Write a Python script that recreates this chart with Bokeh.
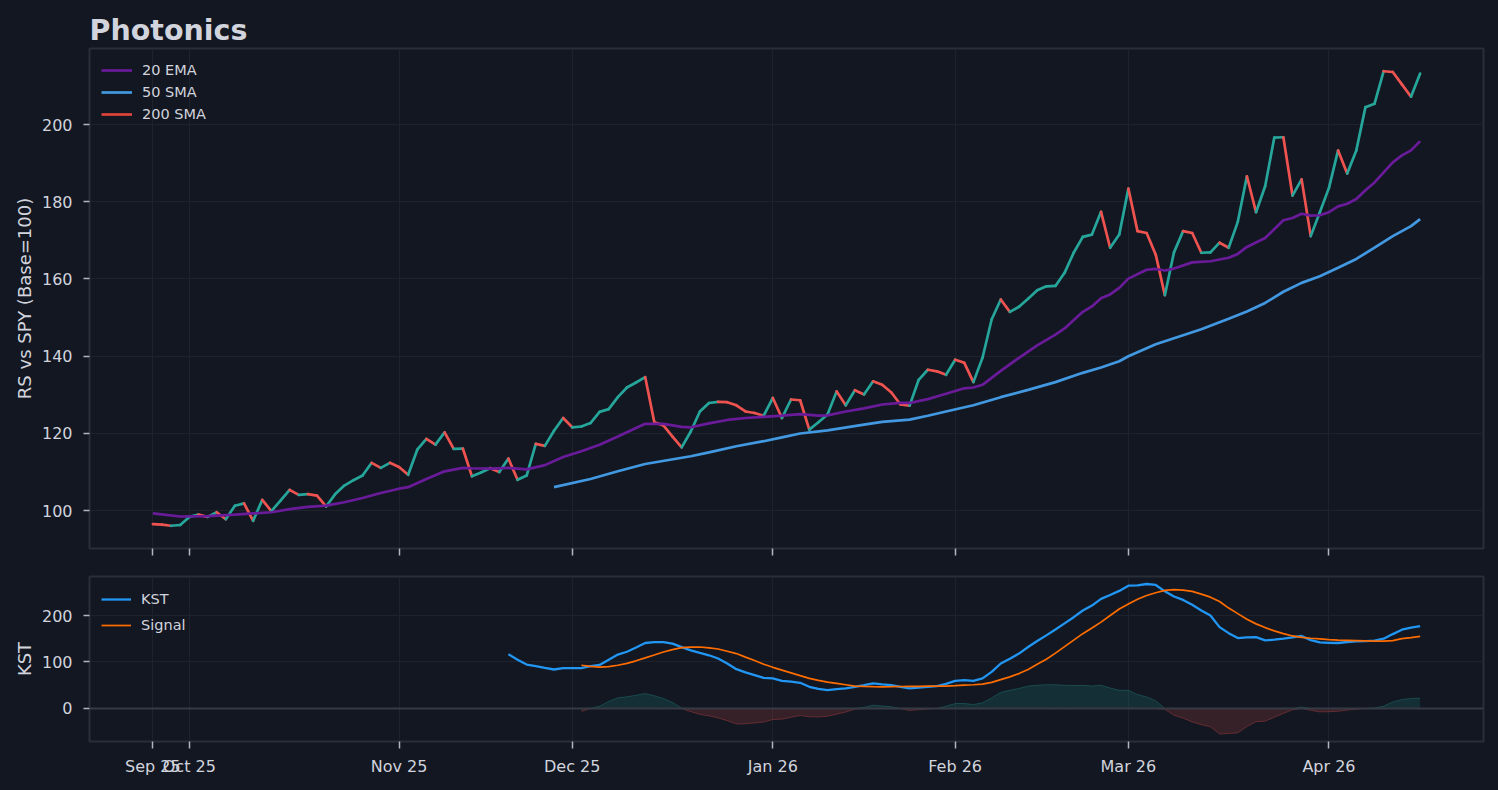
import numpy as np
from bokeh.plotting import figure
from bokeh.layouts import column
from bokeh.models import (FixedTicker, SingleIntervalTicker, Span, Legend, LegendItem,
                          ColumnDataSource, CustomLabelingPolicy)
from bokeh.embed import file_html
from bokeh.resources import INLINE

# ---------------- data ----------------
chart_title = "Photonics"
y_label_main = "RS vs SPY (Base=100)"
y_label_kst = "KST"

tick_idx = [0, 4, 27, 46, 68, 88, 107, 129]
tick_labels = ["Sep 25", "Oct 25", "Nov 25", "Dec 25", "Jan 26", "Feb 26", "Mar 26", "Apr 26"]

price = [
    96.55, 96.4, 96.1, 96.3, 98.4, 99.0, 98.4, 99.6, 97.8, 101.3,
    101.9, 97.4, 102.8, 99.9, 102.6, 105.4, 104.1, 104.3, 103.9, 101.1,
    104.3, 106.5, 107.9, 109.1, 112.4, 111.1, 112.4, 111.3, 109.3, 115.8,
    118.6, 117.1, 120.3, 116.0, 116.1, 108.9, 109.9, 111.0, 110.0, 113.5,
    108.0, 109.1, 117.3, 116.8, 120.7, 124.0, 121.6, 121.8, 122.7, 125.6,
    126.3, 129.4, 131.9, 133.2, 134.6, 122.9, 122.1, 119.2, 116.4, 120.5,
    125.7, 127.9, 128.2, 128.1, 127.3, 125.7, 125.3, 124.6, 129.2, 124.0,
    128.8, 128.6, 121.0, 122.9, 124.9, 130.9, 127.3, 131.2, 130.1, 133.5,
    132.6, 130.6, 127.5, 127.2, 133.9, 136.5, 136.1, 135.2, 139.1, 138.3,
    133.3, 139.6, 149.5, 154.7, 151.5, 152.8, 154.9, 157.1, 158.1, 158.2,
    161.6, 166.8, 170.9, 171.5, 177.4, 168.1, 171.5, 183.4, 172.4, 171.9,
    166.3, 155.8, 166.9, 172.4, 171.9, 166.8, 166.9, 169.4, 168.1, 174.8,
    186.6, 177.3, 184.0, 196.6, 196.7, 181.6, 185.8, 171.1, 177.3, 183.6,
    193.3, 187.3, 193.3, 204.5, 205.4, 213.8, 213.6, 210.4, 207.2, 213.2,
]

ema20_idx = [0, 3, 6, 9, 11, 13, 15, 17, 19, 21, 23, 25, 27, 28, 30, 32, 34, 35, 37, 39,
             41, 43, 45, 47, 49, 51, 53, 54, 56, 58, 59, 61, 63, 65, 67, 69, 71, 73, 74, 76,
             78, 80, 82, 83, 85, 87, 89, 90, 91, 93, 95, 97, 99, 100, 102, 103, 104, 105, 106, 107,
             109, 110, 111, 112, 114, 116, 118, 119, 120, 122, 124, 125, 126, 127, 128, 129, 130, 131, 132, 133,
             134, 135, 136, 137, 138, 139]
ema20 = [99.3, 98.5, 98.6, 99.0, 99.3, 99.6, 100.4, 101.0, 101.3, 102.2, 103.3, 104.6, 105.7, 106.1, 108.2, 110.2, 111.1, 111.0, 110.9, 111.1,
         110.7, 111.8, 113.9, 115.4, 117.1, 119.2, 121.4, 122.5, 122.5, 121.7, 121.6, 122.6, 123.5, 124.0, 124.3, 124.6, 125.0, 124.6, 124.7, 125.7,
         126.5, 127.5, 127.9, 127.9, 128.9, 130.3, 131.7, 131.9, 132.6, 136.2, 139.6, 142.8, 145.6, 147.2, 151.5, 152.9, 155.0, 156.0, 157.7, 160.1,
         162.4, 162.6, 162.2, 162.7, 164.3, 164.6, 165.5, 166.5, 168.3, 170.6, 175.2, 175.8, 176.9, 176.4, 176.5, 177.3, 178.8, 179.5, 180.7, 183.0,
         185.0, 187.6, 190.2, 192.0, 193.3, 195.7]

sma50_idx = [44, 48, 51, 54, 59, 61, 64, 67, 69, 71, 74, 78, 80, 83, 85, 87, 90, 93, 96, 99,
             102, 104, 106, 107, 110, 111, 115, 118, 120, 122, 124, 126, 128, 130, 132, 134, 136, 138, 139]
sma50 = [106.1, 108.2, 110.2, 112.1, 114.1, 115.1, 116.7, 118.0, 119.0, 120.0, 120.8, 122.3, 123.0, 123.6, 124.6, 125.7, 127.3, 129.4, 131.3, 133.3,
         135.7, 137.1, 138.7, 140.0, 143.1, 143.9, 147.0, 149.7, 151.6, 153.8, 156.7, 159.0, 160.7, 162.9, 165.2, 168.1, 171.1, 173.7, 175.5]

# 200 SMA: not enough history in the window -> no visible values, legend entry only
sma200 = [float("nan")] * len(price)

kst_start = 39
kst = [
    116.6, 105.0, 94.5, 90.9, 87.3, 83.8, 86.6, 86.6, 86.6, 90.9,      # 39-48
    93.7, 105.0, 115.9, 122.0, 131.0, 140.8, 142.5, 142.9, 139.5, 132.0,  # 49-58
    125.1, 119.5, 114.4, 107.4, 96.7, 84.5, 77.5, 71.7, 65.9, 64.6,     # 59-68
    59.5, 57.5, 55.2, 46.6, 42.0, 39.6, 41.5, 43.2, 46.6, 50.0,         # 69-78
    53.9, 52.0, 50.3, 46.5, 43.2, 45.0, 46.6, 48.1, 53.0, 59.5,         # 79-88
    61.0, 59.5, 64.6, 78.7, 96.7, 107.0, 118.1, 132.2, 145.0, 157.2,    # 89-98
    170.0, 183.0, 196.4, 210.7, 221.4, 235.7, 244.0, 253.0, 264.2, 264.8,  # 99-108
    267.8, 265.7, 252.0, 241.0, 233.6, 223.0, 211.0, 200.0, 175.0, 162.0,  # 109-118
    151.4, 153.0, 153.6, 146.5, 148.0, 150.2, 153.0, 156.0, 147.0, 142.0,  # 119-128
    141.0, 140.8, 143.0, 144.4, 145.0, 146.0, 150.0, 160.0, 169.4, 174.0,  # 129-138
    177.1,                                                               # 139
]

signal_start = 47
signal = [
    93.0, 90.5, 88.8, 90.0, 93.0, 97.0, 102.5, 108.7, 115.0, 121.5,     # 47-56
    126.5, 130.9, 132.0, 132.2, 130.5, 127.9, 123.0, 118.1, 110.5, 103.0,  # 57-66
    95.2, 88.5, 82.5, 76.6, 70.5, 64.6, 60.5, 56.5, 53.9, 51.0,         # 67-76
    48.1, 47.5, 47.0, 46.6, 46.8, 47.2, 47.5, 47.7, 47.9, 48.1,         # 77-86
    48.1, 49.0, 50.3, 51.0, 52.4, 56.0, 62.0, 68.0, 75.0, 84.0,         # 87-96
    95.0, 106.0, 119.0, 133.0, 147.0, 160.9, 173.0, 185.7, 200.0, 214.0,  # 97-106
    225.0, 235.0, 243.0, 249.0, 254.0, 255.6, 254.5, 252.0, 246.0, 239.5,  # 107-116
    230.0, 216.0, 204.0, 192.0, 182.0, 174.0, 167.0, 160.9, 156.0, 153.0,  # 117-126
    151.0, 149.5, 148.0, 147.0, 146.5, 146.0, 145.5, 145.0, 145.0, 146.0,  # 127-136
    150.2, 152.5, 155.1,                                                 # 137-139
]

# ---------------- style ----------------
BG = "#131722"
OUTLINE = "#2a2e39"
GRID = "#1e222d"
TEXT = "#d1d4dc"
TICK = "#b2b5be"
UP = "#26a69a"
DOWN = "#ef5350"
EMA_C = "#6a1b9a"
SMA50_C = "#4299e1"
SMA200_C = "#e0443a"
KST_C = "#2196f3"
SIG_C = "#ff6d00"
ZERO_C = "#363a45"
FONT = "DejaVu Sans"

price_a = np.array(price)
x = np.arange(len(price_a))
n = len(price_a) - 1
xr = (-0.05 * n, n * 1.05)

all_main = np.concatenate([price_a, np.array(ema20), np.array(sma50)])
lo, hi = all_main.min(), all_main.max()
pad = 0.05 * (hi - lo)

p = figure(frame_width=1394, frame_height=500, x_range=xr, y_range=(lo - pad, hi + pad),
           output_backend="svg", toolbar_location=None,
           min_border_left=89, min_border_right=15, min_border_top=48, min_border_bottom=14,
           background_fill_color=BG, border_fill_color=BG,
           outline_line_color=OUTLINE, outline_line_width=2)

p.title.text = chart_title
p.title.text_font = FONT
p.title.text_font_size = "28.5px"
p.title.text_font_style = "bold"
p.title.text_color = TEXT
p.title.align = "left"
p.title.standoff = 3
p.title.offset = 0


def style_axes(fig, show_x_labels):
    for ax in fig.xaxis:
        ax.ticker = FixedTicker(ticks=tick_idx)
        ax.axis_line_color = None
        ax.major_tick_line_color = TICK
        ax.major_tick_line_width = 1.5
        ax.major_tick_out = 7
        ax.major_tick_in = 0
        ax.minor_tick_line_color = None
        ax.major_label_text_color = TEXT
        ax.major_label_text_font = FONT
        if show_x_labels:
            ax.major_label_overrides = {t: l for t, l in zip(tick_idx, tick_labels)}
            ax.major_label_text_font_size = "16px"
            ax.major_label_standoff = 8
        else:
            # upper panel: tick marks only, no labels drawn
            ax.major_label_policy = CustomLabelingPolicy(
                code="for (const i of indices) indices.unset(i)")
            ax.major_label_text_font_size = "1px"
            ax.major_label_standoff = 0
    for ax in fig.yaxis:
        ax.axis_line_color = None
        ax.major_tick_line_color = TICK
        ax.major_tick_line_width = 1.5
        ax.major_tick_out = 6
        ax.major_tick_in = 0
        ax.minor_tick_line_color = None
        ax.major_label_text_color = TEXT
        ax.major_label_text_font = FONT
        ax.major_label_text_font_size = "16px"
        ax.major_label_standoff = 11
        ax.axis_label_text_color = TEXT
        ax.axis_label_text_font = FONT
        ax.axis_label_text_font_size = "18px"
        ax.axis_label_text_font_style = "normal"
        ax.axis_label_standoff = 4
    fig.xgrid.grid_line_color = GRID
    fig.ygrid.grid_line_color = GRID
    fig.xgrid.grid_line_width = 1
    fig.ygrid.grid_line_width = 1


style_axes(p, False)
p.yaxis.ticker = SingleIntervalTicker(interval=20)
p.yaxis.axis_label = y_label_main

# price line coloured by direction
up = np.diff(price_a) >= 0
seg = ColumnDataSource(dict(x0=x[:-1], y0=price_a[:-1], x1=x[1:], y1=price_a[1:],
                            c=np.where(up, UP, DOWN)))
p.segment("x0", "y0", "x1", "y1", source=seg, line_color="c", line_width=2.7, line_cap="round")

r_ema = p.line(ema20_idx, ema20, line_color=EMA_C, line_width=2.7)
r_sma50 = p.line(sma50_idx, sma50, line_color=SMA50_C, line_width=2.7)
r_sma200 = p.line(x, sma200, line_color=SMA200_C, line_width=2.7)

leg = Legend(items=[LegendItem(label="20 EMA", renderers=[r_ema]),
                    LegendItem(label="50 SMA", renderers=[r_sma50]),
                    LegendItem(label="200 SMA", renderers=[r_sma200])],
             location="top_left", background_fill_alpha=0, border_line_alpha=0,
             label_text_color=TEXT, label_text_font=FONT, label_text_font_size="14.5px",
             glyph_width=31, glyph_height=20, spacing=2, padding=7, margin=5, label_standoff=10)
p.add_layout(leg)

# ---------------- KST panel ----------------
kst_a = np.array(kst)
sig_a = np.array(signal)
kx = np.arange(kst_start, kst_start + len(kst_a))
sx = np.arange(signal_start, signal_start + len(sig_a))
hist = kst_a[signal_start - kst_start:] - sig_a

klo = min(hist.min(), kst_a.min(), sig_a.min(), 0)
khi = max(hist.max(), kst_a.max(), sig_a.max())
kpad = 0.05 * (khi - klo)

k = figure(frame_width=1394, frame_height=165, x_range=p.x_range, y_range=(klo - kpad, khi + kpad),
           output_backend="svg", toolbar_location=None,
           min_border_left=89, min_border_right=15, min_border_top=14, min_border_bottom=41,
           background_fill_color=BG, border_fill_color=BG,
           outline_line_color=OUTLINE, outline_line_width=2)
style_axes(k, True)
k.yaxis.ticker = SingleIntervalTicker(interval=100)
k.yaxis.axis_label = y_label_kst

pos = np.maximum(hist, 0)
neg = np.minimum(hist, 0)
k.varea(x=sx, y1=np.zeros_like(pos), y2=pos, fill_color=UP, fill_alpha=0.17)
k.varea(x=sx, y1=np.zeros_like(neg), y2=neg, fill_color=DOWN, fill_alpha=0.17)
k.line(sx, pos, line_color=UP, line_alpha=0.3, line_width=1)
k.line(sx, neg, line_color=DOWN, line_alpha=0.3, line_width=1)
k.add_layout(Span(location=0, dimension="width", line_color=ZERO_C, line_width=2))

r_kst = k.line(kx, kst_a, line_color=KST_C, line_width=2.3)
r_sig = k.line(sx, sig_a, line_color=SIG_C, line_width=1.7)

leg2 = Legend(items=[LegendItem(label="KST", renderers=[r_kst]),
                     LegendItem(label="Signal", renderers=[r_sig])],
              location="top_left", background_fill_alpha=0, border_line_alpha=0,
              label_text_color=TEXT, label_text_font=FONT, label_text_font_size="14.5px",
              glyph_width=30, glyph_height=22, spacing=4, padding=7, margin=5, label_standoff=10)
k.add_layout(leg2)

layout = column(p, k, spacing=0, styles={"background-color": BG})
html = file_html(layout, INLINE, title=chart_title)
css = ("<style>html, body {margin:0 !important; padding:0 !important; "
       "background-color:#131722 !important;}</style>")
html = html.replace("</head>", css + "</head>", 1)
open("out.html", "w").write(html)
